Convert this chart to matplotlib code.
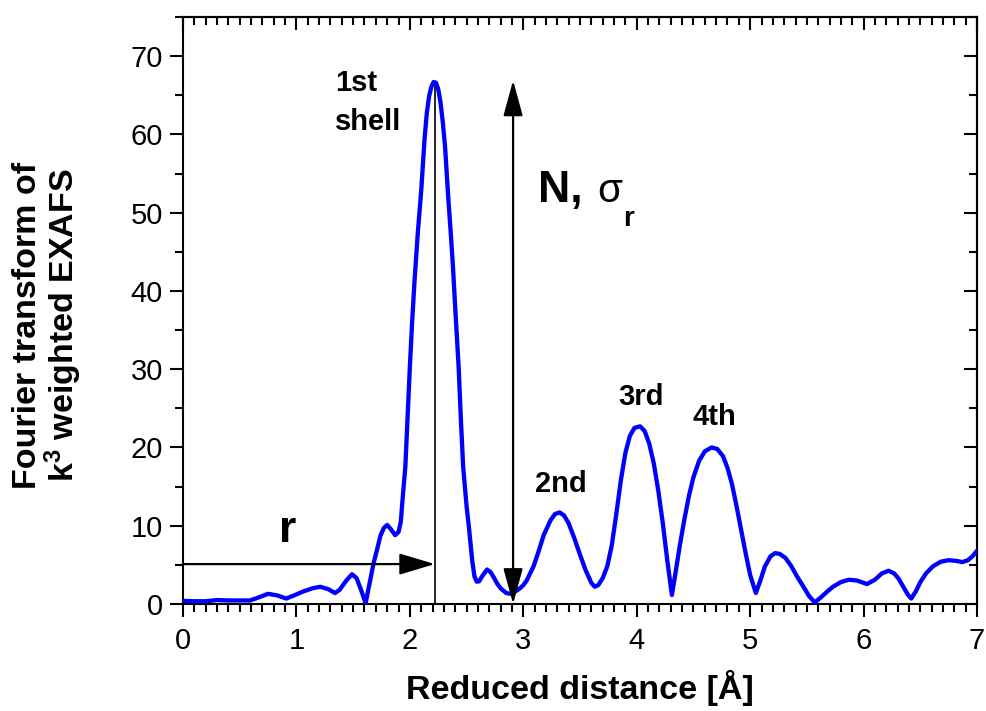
import numpy as np
import matplotlib
matplotlib.use("Agg")
import matplotlib.pyplot as plt
from matplotlib.ticker import MultipleLocator
from matplotlib.patches import FancyArrowPatch

plt.rcParams['font.family'] = ['Liberation Sans', 'DejaVu Sans']
plt.rcParams['mathtext.default'] = 'regular'

# --- data ---
r_dist = [0.00, 0.10, 0.20, 0.30, 0.40, 0.50, 0.59, 0.66, 0.75, 0.83,
          0.91, 0.98, 1.06, 1.14, 1.21, 1.28, 1.34, 1.38, 1.44, 1.49,
          1.53, 1.57, 1.61, 1.65, 1.68, 1.71, 1.74, 1.77, 1.80, 1.83,
          1.87, 1.90, 1.92, 1.94, 1.96, 1.98, 2.00, 2.02, 2.04, 2.07,
          2.10, 2.13, 2.15, 2.17, 2.19, 2.21, 2.23, 2.25, 2.27, 2.29,
          2.31, 2.34, 2.36, 2.38, 2.40, 2.43, 2.45, 2.47, 2.50, 2.52,
          2.55, 2.57, 2.59, 2.61, 2.64, 2.68, 2.71, 2.74, 2.77, 2.80,
          2.85, 2.89, 2.92, 2.97, 3.00, 3.03, 3.09, 3.13, 3.18, 3.24,
          3.28, 3.32, 3.36, 3.40, 3.45, 3.50, 3.55, 3.60, 3.63, 3.66,
          3.70, 3.74, 3.78, 3.82, 3.86, 3.90, 3.94, 3.98, 4.03, 4.07,
          4.11, 4.15, 4.19, 4.23, 4.27, 4.31, 4.34, 4.38, 4.42, 4.46,
          4.50, 4.55, 4.60, 4.66, 4.71, 4.76, 4.80, 4.84, 4.88, 4.92,
          4.96, 5.00, 5.05, 5.09, 5.13, 5.18, 5.22, 5.26, 5.31, 5.36,
          5.41, 5.47, 5.52, 5.57, 5.62, 5.68, 5.73, 5.80, 5.87, 5.94,
          6.03, 6.10, 6.16, 6.22, 6.27, 6.31, 6.35, 6.39, 6.42, 6.46,
          6.50, 6.55, 6.61, 6.68, 6.75, 6.82, 6.87, 6.92, 6.96, 7.00]
ft_mag = [0.4, 0.35, 0.35, 0.5, 0.45, 0.45, 0.45, 0.8, 1.3, 1.1,
          0.7, 1.1, 1.6, 2.0, 2.2, 1.9, 1.4, 1.8, 3.0, 3.8,
          3.3, 1.8, 0.1, 3.0, 5.2, 6.9, 8.7, 9.7, 10.1, 9.6,
          8.8, 9.2, 10.5, 14.1, 17.5, 24.0, 30.3, 36.0, 41.0, 47.4,
          52.8, 59.5, 62.8, 64.9, 66.1, 66.7, 66.6, 65.8, 64.1, 61.6,
          58.5, 51.6, 47.5, 43.1, 37.8, 30.3, 23.5, 17.5, 12.5, 9.9,
          5.5, 3.5, 2.85, 2.9, 3.6, 4.4, 4.1, 3.4, 2.6, 2.0,
          1.4, 1.3, 1.5, 2.0, 2.4, 3.0, 4.8, 6.5, 8.8, 10.7,
          11.5, 11.7, 11.3, 10.3, 8.4, 6.3, 4.3, 2.7, 2.2, 2.4,
          3.3, 4.8, 7.5, 11.5, 15.8, 19.3, 21.5, 22.5, 22.7, 22.1,
          20.5, 18.0, 14.5, 10.3, 5.5, 1.15, 3.8, 7.5, 10.8, 13.8,
          16.2, 18.3, 19.5, 20.0, 19.8, 18.9, 17.4, 15.3, 12.5, 9.5,
          6.5, 3.7, 1.4, 3.0, 4.8, 6.1, 6.5, 6.4, 5.9, 4.9,
          3.6, 2.2, 1.0, 0.2, 0.8, 1.6, 2.2, 2.8, 3.1, 3.0,
          2.55, 3.1, 3.9, 4.25, 3.9, 3.2, 2.2, 1.2, 0.7, 1.6,
          2.8, 3.9, 4.8, 5.4, 5.6, 5.5, 5.35, 5.6, 6.1, 6.8]

peak_r, peak_h = 2.22, 66.7      # first shell position / height
r_arrow_y = 5.1                  # level of the "r" arrow
amp_arrow_x, amp_arrow_top = 2.91, 66.9

shell_labels = ["2nd", "3rd", "4th"]
shell_label_pos = [(3.10, 14.3), (3.84, 25.4), (4.49, 22.9)]

fig = plt.figure(figsize=(9.87, 7.11), dpi=100)
ax = fig.add_axes([0.1854, 0.1505, 0.8045, 0.8256])

ax.plot(r_dist, ft_mag, color='#0000FF', lw=3.1, solid_joinstyle='round',
        solid_capstyle='round', zorder=3)

# vertical line under the first shell
ax.plot([peak_r, peak_r], [0, peak_h], color='black', lw=1.2, zorder=2)

# "r" arrow
ax.add_patch(FancyArrowPatch((0, r_arrow_y), (peak_r, r_arrow_y),
                             arrowstyle='-|>,head_length=1.1,head_width=0.33',
                             mutation_scale=20, lw=1.6, color='black',
                             shrinkA=0, shrinkB=0, clip_on=False, zorder=4))
# amplitude arrow
ax.add_patch(FancyArrowPatch((amp_arrow_x, 0), (amp_arrow_x, amp_arrow_top),
                             arrowstyle='<|-|>,head_length=1.1,head_width=0.3',
                             mutation_scale=20, lw=1.6, color='black',
                             shrinkA=0, shrinkB=0, clip_on=False, zorder=4))

# annotations
ax.text(1.34, 65.6, "1st", fontsize=21, fontweight='bold', va='baseline')
ax.text(1.34, 60.5, "shell", fontsize=21, fontweight='bold', va='baseline')
ax.text(0.85, 7.9, "r", fontsize=32, fontweight='bold', va='baseline')
ax.text(3.13, 51.3, "N,", fontsize=32, fontweight='bold', va='baseline')
ax.text(3.65, 51.3, "\u03c3", fontsize=29, va='baseline')
ax.text(3.88, 48.3, "r", fontsize=20, fontweight='bold', va='baseline')
for lab, (lx, ly) in zip(shell_labels, shell_label_pos):
    ax.text(lx, ly, lab, fontsize=21, fontweight='bold', va='baseline')

ax.set_xlim(0, 7)
ax.set_ylim(0, 75)
ax.xaxis.set_major_locator(MultipleLocator(1))
ax.xaxis.set_minor_locator(MultipleLocator(0.1))
ax.yaxis.set_major_locator(MultipleLocator(10))
ax.yaxis.set_minor_locator(MultipleLocator(5))
ax.set_yticks(np.arange(0, 71, 10))
ax.tick_params(which='major', direction='out', length=9.5, width=1.5,
               labelsize=21, pad=5)
ax.tick_params(axis='x', which='major', pad=7)
ax.tick_params(which='minor', direction='out', length=5.5, width=1.5)
for sp in ax.spines.values():
    sp.set_linewidth(1.5)

# mirrored ticks on top and right, pointing inwards
top = ax.secondary_xaxis('top')
top.xaxis.set_major_locator(MultipleLocator(1))
top.xaxis.set_minor_locator(MultipleLocator(0.1))
top.tick_params(which='major', direction='in', length=9.5, width=1.5, labeltop=False)
top.tick_params(which='minor', direction='in', length=5.5, width=1.5)
top.spines['top'].set_linewidth(1.5)
right = ax.secondary_yaxis('right')
right.yaxis.set_major_locator(MultipleLocator(10))
right.yaxis.set_minor_locator(MultipleLocator(5))
right.tick_params(which='major', direction='in', length=9.5, width=1.5, labelright=False)
right.tick_params(which='minor', direction='in', length=5.5, width=1.5)
right.spines['right'].set_linewidth(1.5)

ax.set_xlabel("Reduced distance [\u00c5]", fontsize=24.5, fontweight='bold', labelpad=11)
fig.text(48 / 987, 1 - 325 / 711, "Fourier transform of\nk$^{3}$ weighted EXAFS",
         rotation=90, ha='center', va='center', fontsize=24.5,
         fontweight='bold', linespacing=1.0)

fig.savefig("out.png", dpi=100)
